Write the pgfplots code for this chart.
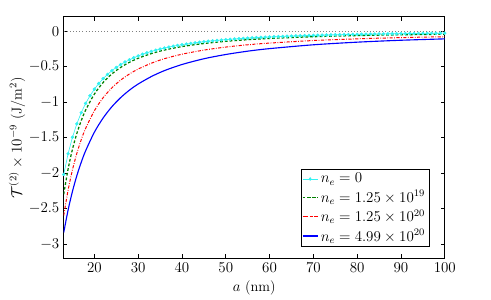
\documentclass[border=0pt]{standalone}
\usepackage{pgfplots}
\pgfplotsset{compat=1.18}
\usetikzlibrary{calc}
\definecolor{mgreen}{rgb}{0,0.5,0}
\definecolor{mcyan}{rgb}{0.2,0.95,0.95}
\newcommand{\bfs}{\fontsize{11.5}{13.5}\selectfont}
\begin{document}
\begin{tikzpicture}
\begin{axis}[
  name=ax,
  scale only axis,
  width=305pt, height=193pt,
  xmin=13, xmax=100, ymin=-3.2, ymax=0.2,
  xtick={20,30,...,100},
  ytick={-3,-2.5,-2,-1.5,-1,-0.5,0},
  tick align=inside,
  major tick length=3pt,
  axis line style={line width=0.8pt},
  tick style={line width=0.6pt, black},
  tick label style={font=\bfs},
  label style={font=\bfs},
  xlabel={$a$ (nm)},
  ylabel={$\mathcal{T}^{(2)}\times 10^{-9}$ (J/m$^2$)},
  xlabel style={yshift=0pt},
  ylabel style={yshift=-4pt},
  legend cell align=left,
  legend style={at={(1,0)}, anchor=south east, xshift=-12.5pt, yshift=9pt,
    inner sep=1pt, row sep=0.5pt, font=\bfs},
]
\addplot[mcyan, line width=0.5pt, mark=*, mark size=1.1pt, mark options={solid},
  legend image post style={mcyan, xscale=0.7}] coordinates {
(13,-2.020)(14,-1.728)(15,-1.495)(16,-1.306)(17,-1.149)(18,-1.019)(19,-0.910)(20,-0.817)
(21,-0.7375)(22,-0.669)(23,-0.609)(24,-0.557)(25,-0.511)(26,-0.471)(27,-0.435)(28,-0.403)
(29,-0.3745)(30,-0.349)(31,-0.3255)(32,-0.3045)(33,-0.285)(34,-0.268)(35,-0.252)(36,-0.238)
(37,-0.2245)(38,-0.212)(39,-0.201)(40,-0.191)(41,-0.181)(42,-0.172)(43,-0.164)(44,-0.156)
(45,-0.149)(46,-0.142)(47,-0.136)(48,-0.130)(49,-0.1245)(50,-0.119)(51,-0.1144)(52,-0.1099)
(53,-0.1055)(54,-0.1015)(55,-0.098)(56,-0.094)(57,-0.0906)(58,-0.0874)(59,-0.0843)(60,-0.081)
(61,-0.0786)(62,-0.0759)(63,-0.0734)(64,-0.0710)(65,-0.0688)(66,-0.0666)(67,-0.0645)(68,-0.0625)
(69,-0.0607)(70,-0.059)(71,-0.0571)(72,-0.0555)(73,-0.0539)(74,-0.0524)(75,-0.0509)(76,-0.0495)
(77,-0.0482)(78,-0.0469)(79,-0.0457)(80,-0.0445)(81,-0.0433)(82,-0.0422)(83,-0.0411)(84,-0.0401)
(85,-0.0391)(86,-0.0382)(87,-0.0373)(88,-0.0364)(89,-0.0355)(90,-0.0347)(91,-0.0339)(92,-0.0332)
(93,-0.0324)(94,-0.0317)(95,-0.0310)(96,-0.0303)(97,-0.0297)(98,-0.0290)(99,-0.0284)(100,-0.0278)
};
\addlegendentry{$n_e = 0$}
\addplot[mgreen, line width=1pt, dash pattern=on 2.2pt off 1.6pt, smooth,
  legend image post style={mgreen, xscale=0.7}] coordinates {
(13,-2.300)(14,-1.944)(15,-1.664)(16,-1.442)(17,-1.262)(18,-1.113)(20,-0.887)(22,-0.724)
(24,-0.603)(26,-0.511)(28,-0.439)(30,-0.382)(33,-0.316)(36,-0.266)(40,-0.217)(45,-0.174)
(50,-0.143)(55,-0.120)(60,-0.1026)(70,-0.0782)(80,-0.0622)(90,-0.0511)(100,-0.0430)
};
\addlegendentry{$n_e = 1.25\times 10^{19}$}
\addplot[red, line width=0.8pt, dash pattern=on 2.5pt off 1.2pt on 0.6pt off 1.2pt, smooth,
  legend image post style={red, xscale=0.7}] coordinates {
(13,-2.600)(14,-2.241)(15,-1.954)(16,-1.722)(17,-1.530)(18,-1.371)(20,-1.122)(22,-0.938)
(24,-0.799)(26,-0.690)(28,-0.604)(30,-0.534)(33,-0.452)(36,-0.388)(40,-0.325)(45,-0.267)
(50,-0.224)(55,-0.192)(60,-0.168)(70,-0.132)(80,-0.108)(90,-0.0908)(100,-0.0781)
};
\addlegendentry{$n_e = 1.25\times 10^{20}$}
\addplot[blue, line width=0.9pt, smooth,
  legend image post style={blue, xscale=0.7}] coordinates {
(13,-2.840)(14,-2.522)(15,-2.258)(16,-2.037)(17,-1.849)(18,-1.687)(20,-1.425)(22,-1.224)
(24,-1.065)(26,-0.937)(28,-0.832)(30,-0.745)(33,-0.640)(36,-0.556)(40,-0.470)(45,-0.389)
(50,-0.329)(55,-0.282)(60,-0.246)(70,-0.192)(80,-0.155)(90,-0.128)(100,-0.1085)
};
\addlegendentry{$n_e = 4.99\times 10^{20}$}
\addplot[gray, dotted, line width=0.5pt, forget plot] coordinates {(13,0)(100,0)};
\end{axis}
\path[use as bounding box] ($(ax.south west)+(-51pt,-32pt)$) rectangle ($(ax.north east)+(37pt,13.6pt)$);
\end{tikzpicture}
\end{document}
